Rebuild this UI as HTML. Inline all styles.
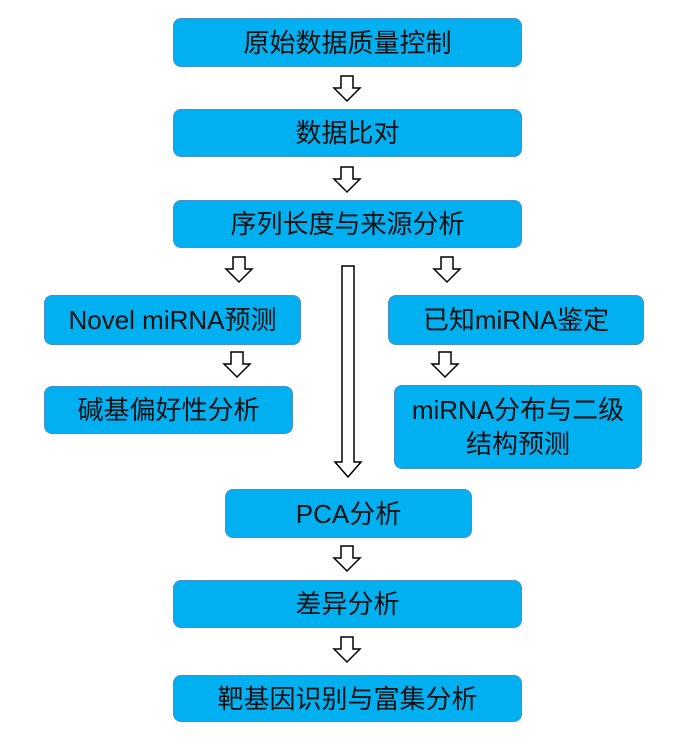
<!DOCTYPE html>
<html><head><meta charset="utf-8"><style>
body{margin:0;width:691px;height:752px;background:#fff;position:relative;overflow:hidden;font-family:"Liberation Sans","Noto Sans CJK SC",sans-serif}
.b{position:absolute;box-sizing:border-box;background:#00B0F0;border:1.5px solid #4A8FCB;border-radius:8px;display:flex;align-items:center;justify-content:center;text-align:center;font-size:26px;color:#111;line-height:34px}
svg{position:absolute;left:0;top:0}
</style></head><body>
<svg width="691" height="752">
<g fill="#fff" stroke="#000" stroke-width="1.5">
<path id="a" d="M341 76 h12 v12 h7 l-13 13 l-13 -13 h7 z"/>
<use href="#a" y="91"/>
<use href="#a" x="-108" y="181"/>
<use href="#a" x="100" y="181"/>
<use href="#a" x="-110" y="276"/>
<use href="#a" x="98" y="276"/>
<use href="#a" y="470"/>
<use href="#a" y="561"/>
<path d="M342 266 h12 v196 h7 l-13 15 l-13 -15 h7 z"/>
</g>
</svg>
<div class="b" style="left:173px;top:18px;width:349px;height:49px">原始数据质量控制</div>
<div class="b" style="left:173px;top:109px;width:349px;height:48px">数据比对</div>
<div class="b" style="left:173px;top:200px;width:349px;height:48px">序列长度与来源分析</div>
<div class="b" style="left:44px;top:295px;width:257px;height:50px">Novel miRNA预测</div>
<div class="b" style="left:388px;top:295px;width:256px;height:50px">已知miRNA鉴定</div>
<div class="b" style="left:44px;top:386px;width:249px;height:48px">碱基偏好性分析</div>
<div class="b" style="left:394px;top:385px;width:248px;height:84px">miRNA分布与二级<br>结构预测</div>
<div class="b" style="left:225px;top:489px;width:247px;height:49px">PCA分析</div>
<div class="b" style="left:173px;top:580px;width:349px;height:48px">差异分析</div>
<div class="b" style="left:173px;top:675px;width:349px;height:47px">靶基因识别与富集分析</div>
</body></html>
